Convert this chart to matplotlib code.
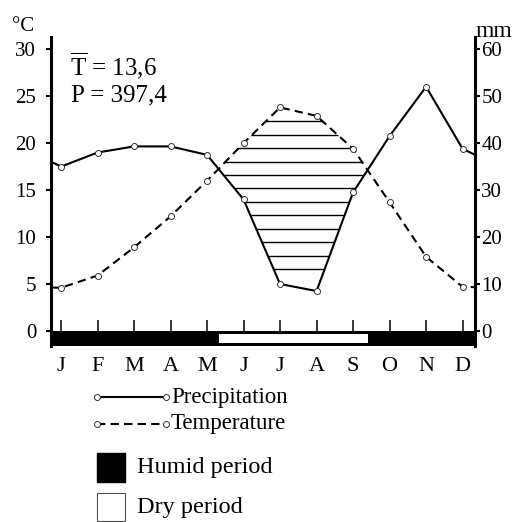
import numpy as np
import matplotlib
matplotlib.use('Agg')
import matplotlib.pyplot as plt
from matplotlib.lines import Line2D
from matplotlib.patches import Rectangle

plt.rcParams['font.family'] = ['Liberation Serif', 'DejaVu Serif']
plt.rcParams['mathtext.fontset'] = 'custom'
plt.rcParams['mathtext.rm'] = 'Liberation Serif'

# Dane klimatyczne
months = ['J', 'F', 'M', 'A', 'M', 'J', 'J', 'A', 'S', 'O', 'N', 'D']
precipitation = [35, 38, 39.3, 39.3, 37.5, 28, 10, 8.5, 29.5, 41.5, 52, 38.8]  # mm
temperature = [4.6, 5.9, 8.9, 12.2, 16.0, 20.0, 23.8, 22.9, 19.4, 13.7, 7.9, 4.7]  # °C
t_mean = '13,6'
p_sum = '397,4'

W, H = 525, 522


def fx(px):
    return px / W


def fy(py):
    return 1 - py / H


x = np.arange(len(months))
# grudzien -> styczen, zeby linie dochodzily do osi
xe = np.concatenate([[-1], x, [len(months)]])
pe = np.array([precipitation[-1]] + precipitation + [precipitation[0]]) / 2  # skala 1 C = 2 mm
te = np.array([temperature[-1]] + temperature + [temperature[0]])

fig = plt.figure(figsize=(W / 100, H / 100), dpi=100)
ax = fig.add_axes([fx(51), fy(346), fx(475) - fx(51), fy(37) - fy(346)])
ax.set_xlim(-0.274, 11.34)
ax.set_ylim(-1.6, 31.3)
ax2 = ax.twinx()
ax2.set_ylim(-3.2, 62.6)

# linie
ax.plot(xe, pe, color='k', lw=1.5, zorder=3)
ax.plot(xe, te, color='k', lw=1.5, dashes=(4, 2.5), zorder=3)
ax.plot(x, pe[1:-1], 'o', ms=4.3, mfc='white', mec='0.2', mew=0.7, zorder=5)
ax.plot(x, te[1:-1], 'o', ms=4.3, mfc='white', mec='0.2', mew=0.7, zorder=5)

# okres suchy - kreskowanie poziome
poly = ax.fill_between(xe, pe, te, where=te > pe, interpolate=True,
                       facecolor='none', edgecolor='none')
levels = np.arange(6.6, 23.0, 1.43)
hl = ax.hlines(levels, -1, 12, color='k', lw=1.0, zorder=2)
hl.set_clip_path(poly.get_paths()[0], ax.transData)

# pasek okresow
d = np.array(temperature) - np.array(precipitation) / 2
cross = []
for i in range(len(d) - 1):
    if d[i] * d[i + 1] < 0:
        cross.append(i + d[i] / (d[i] - d[i + 1]))
dry_start, dry_end = cross[0], cross[-1]
x0, x1 = ax.get_xlim()
ax.add_patch(Rectangle((x0, -1.6), x1 - x0, 1.6, fc='k', ec='none', zorder=4))
ax.add_patch(Rectangle((dry_start, -1.25), dry_end - dry_start, 0.95,
                       fc='white', ec='none', zorder=4))
ax.vlines(x, 0, 1.2, color='k', lw=1.1, zorder=4)

# osie
ax.set_xticks(x)
ax.set_xticklabels(months)
ax.tick_params(axis='x', length=0, pad=8, labelsize=16)
ax.set_yticks(range(0, 31, 5))
ax.tick_params(axis='y', length=3.6, width=1.5, pad=7, labelsize=15)
ax2.set_yticks(range(0, 61, 10))
ax2.tick_params(axis='y', length=3.6, width=1.5, pad=1, labelsize=15)
for s in ['top', 'bottom', 'right']:
    ax.spines[s].set_visible(False)
    ax2.spines[s if s != 'right' else 'left'].set_visible(False)
ax.spines['left'].set_linewidth(2.2)
ax2.spines['right'].set_linewidth(2.2)

fig.text(fx(12), fy(31), '°C', fontsize=15, va='baseline')
fig.text(fx(475), fy(37), 'mm', fontsize=17, va='baseline')
fig.text(fx(70), fy(66), r'$\overline{\mathrm{T}}$ = ' + t_mean, fontsize=18, va='center')
fig.text(fx(71), fy(95), 'P = ' + p_sum, fontsize=18, va='center')

# legenda
fig.add_artist(Line2D([fx(97), fx(166)], [fy(397), fy(397)], color='k', lw=1.5,
                      marker='o', ms=4.3, mfc='white', mec='0.2', mew=0.7,
                      transform=fig.transFigure))
fig.add_artist(Line2D([fx(97), fx(166)], [fy(424), fy(424)], color='k', lw=1.5,
                      dashes=(4, 2.5), marker='o', ms=4.3, mfc='white', mec='0.2',
                      mew=0.7, transform=fig.transFigure))
fig.text(fx(171), fy(397), 'Precipitation', fontsize=16.5, va='center')
fig.text(fx(171), fy(424), 'Temperature', fontsize=16.5, va='center')
fig.add_artist(Rectangle((fx(97), fy(482)), fx(28), fy(0) - fy(29), fc='k', ec='k',
                         transform=fig.transFigure))
fig.add_artist(Rectangle((fx(97), fy(521)), fx(28), fy(0) - fy(28), fc='white',
                         ec='0.3', lw=0.8, transform=fig.transFigure))
fig.text(fx(137), fy(467), 'Humid period', fontsize=17.5, va='center')
fig.text(fx(137), fy(507), 'Dry period', fontsize=17.5, va='center')

fig.savefig('out.png', dpi=100)
